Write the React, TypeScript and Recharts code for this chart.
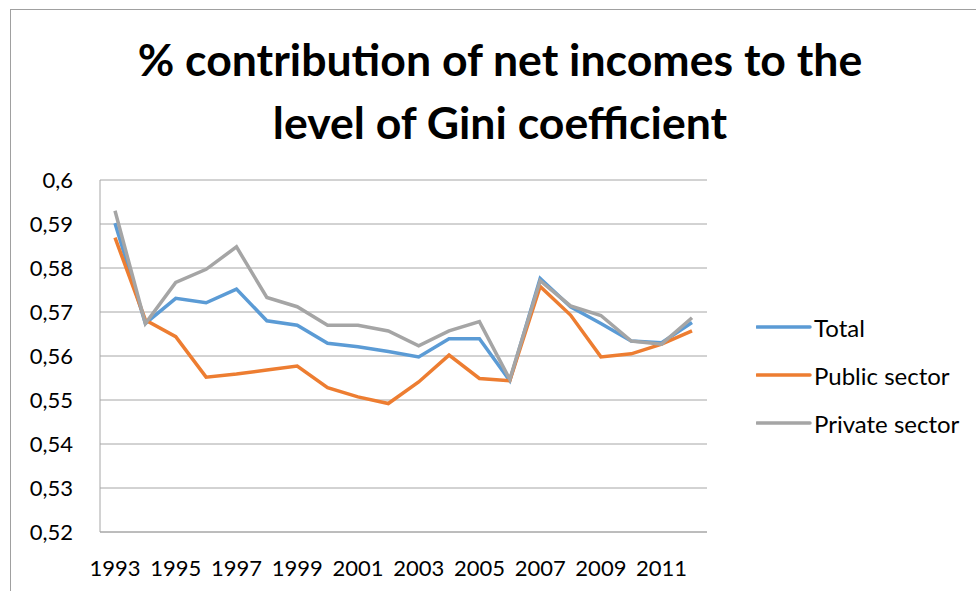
import { CartesianGrid, Legend, Line, LineChart, XAxis, YAxis } from "recharts";

// Gini contribution by sector, 1993-2012
const years = [
  "1993", "1994", "1995", "1996", "1997", "1998", "1999", "2000", "2001", "2002",
  "2003", "2004", "2005", "2006", "2007", "2008", "2009", "2010", "2011", "2012",
];
const total = [
  0.5902, 0.5674, 0.5731, 0.5721, 0.5752, 0.568, 0.567, 0.5629, 0.5621, 0.561,
  0.5598, 0.5639, 0.5639, 0.5544, 0.5776, 0.5712, 0.5674, 0.5634, 0.563, 0.5676,
];
const publicSector = [
  0.5869, 0.5682, 0.5644, 0.5552, 0.5559, 0.5568, 0.5577, 0.5528, 0.5507, 0.5492,
  0.5541, 0.5602, 0.5549, 0.5544, 0.5758, 0.5693, 0.5598, 0.5605, 0.5627, 0.5657,
];
const privateSector = [
  0.593, 0.5674, 0.5767, 0.5797, 0.5848, 0.5733, 0.5712, 0.567, 0.567, 0.5657,
  0.5623, 0.5657, 0.5678, 0.5547, 0.5771, 0.5714, 0.5692, 0.5634, 0.5627, 0.5687,
];
const seriesNames = ["Total", "Public sector", "Private sector"];
const yTicks = [0.52, 0.53, 0.54, 0.55, 0.56, 0.57, 0.58, 0.59, 0.6];

const data = years.map((year, i) => ({
  year,
  total: total[i],
  publicSector: publicSector[i],
  privateSector: privateSector[i],
}));

const FONT = "Lato, 'Open Sans', sans-serif";
const GRID = "#a6a6a6";

const formatTick = (v: number) => String(+v.toFixed(2)).replace(".", ",");

// keep the legend in series order (recharts sorts by name otherwise)
function LegendBox({ payload }: any) {
  const items = [...(payload || [])].sort(
    (a: any, b: any) => seriesNames.indexOf(a.value) - seriesNames.indexOf(b.value)
  );
  return (
    <div style={{ fontFamily: FONT, fontSize: 24, color: "#000" }}>
      {items.map((p: any) => (
        <div key={p.value} style={{ display: "flex", alignItems: "center", height: 48 }}>
          <svg width={58} height={6}>
            <line x1={1} y1={3} x2={54} y2={3} stroke={p.color} strokeWidth={3.5} strokeLinecap="round" />
          </svg>
          <span>{p.value}</span>
        </div>
      ))}
    </div>
  );
}

export default function App() {
  return (
    <div style={{ position: "absolute", left: 0, top: 0, width: 976, height: 591, background: "#fff", overflow: "hidden" }}>
      <div
        style={{
          position: "absolute",
          left: 10,
          top: 9,
          width: 1000,
          height: 700,
          borderLeft: "1px solid #a0a0a0",
          borderTop: "1px solid #a0a0a0",
        }}
      />
      <div
        style={{
          position: "absolute",
          left: 0,
          top: 27,
          width: 1000,
          textAlign: "center",
          fontFamily: FONT,
          fontWeight: 700,
          fontSize: 44.6,
          lineHeight: "63px",
          color: "#000",
        }}
      >
        % contribution of net incomes to the
        <br />
        level of Gini coefficient
      </div>
      <div style={{ position: "absolute", left: 0, top: 0 }}>
        <LineChart width={976} height={591} data={data} margin={{ top: 180, right: 49, bottom: 0, left: 0 }}>
          <CartesianGrid vertical={false} stroke={GRID} />
          <XAxis
            dataKey="year"
            interval={1}
            padding={{ left: 15, right: 15 }}
            tickLine={false}
            tickSize={0}
            tickMargin={28}
            axisLine={{ stroke: GRID }}
            tick={{ fill: "#000", fontSize: 22, fontFamily: FONT }}
            height={59}
          />
          <YAxis
            domain={[0.52, 0.6]}
            ticks={yTicks}
            tickFormatter={formatTick}
            width={100}
            tickLine={false}
            tickSize={0}
            tickMargin={27}
            axisLine={{ stroke: GRID }}
            tick={{ fill: "#000", fontSize: 22, fontFamily: FONT }}
          />
          <Legend
            layout="vertical"
            align="right"
            verticalAlign="top"
            content={<LegendBox />}
            wrapperStyle={{ left: 756, top: 303, width: 220 }}
          />
          <Line dataKey="total" name="Total" stroke="#5b9bd5" strokeWidth={3.5} dot={false} isAnimationActive={false} />
          <Line dataKey="publicSector" name="Public sector" stroke="#ed7d31" strokeWidth={3.5} dot={false} isAnimationActive={false} />
          <Line dataKey="privateSector" name="Private sector" stroke="#a5a5a5" strokeWidth={3.5} dot={false} isAnimationActive={false} />
        </LineChart>
      </div>
    </div>
  );
}
